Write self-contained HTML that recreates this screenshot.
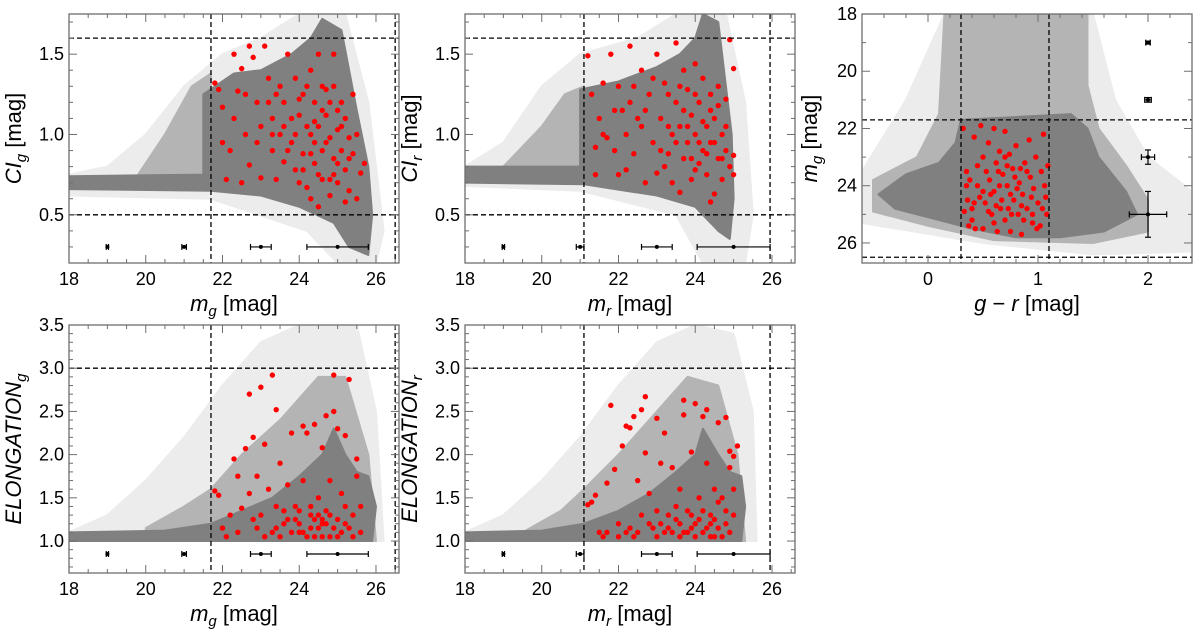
<!DOCTYPE html>
<html><head><meta charset="utf-8"><style>
body{margin:0;background:#fff;}
svg{display:block;font-family:"Liberation Sans",sans-serif;}
</style></head><body>
<svg id="fig" width="1200" height="635" viewBox="0 0 1200 635" xmlns="http://www.w3.org/2000/svg"></svg>
<script>
// ---------- data ----------
const p1Red=[[21.8,1.32],[21.9,1.28],[22.0,1.17],[22.0,0.95],[22.1,0.72],[22.2,0.9],[22.3,1.5],[22.4,1.27],[22.5,1.41],[22.6,1.0],[22.7,1.55],[22.7,0.81],[22.8,1.48],[22.9,1.2],[23.0,1.05],[23.0,0.73],[23.1,1.55],[23.2,1.35],[23.3,1.1],[23.3,0.9],[23.4,1.25],[23.5,1.0],[23.6,0.83],[23.6,1.2],[23.7,1.5],[23.8,0.95],[23.9,1.35],[23.9,0.78],[24.0,1.12],[24.1,0.88],[24.1,1.25],[24.2,0.67],[24.3,1.0],[24.3,1.4],[24.3,0.6],[24.4,1.2],[24.4,0.82],[24.5,1.05],[24.5,1.5],[24.6,0.72],[24.6,1.3],[24.7,0.95],[24.7,1.12],[24.8,0.62],[24.8,1.2],[24.9,0.85],[24.9,1.5],[25.0,1.03],[25.0,0.7],[25.1,1.2],[25.1,0.9],[25.2,0.78],[25.2,1.1],[25.3,0.65],[25.3,0.98],[25.4,0.88],[25.4,1.25],[25.5,0.6],[25.5,1.0],[25.6,0.76],[25.7,0.82],[23.8,1.1],[24.2,1.05],[24.6,0.9],[24.0,0.7],[23.4,0.72],[22.5,0.7],[24.9,0.75],[25.2,0.58],[24.5,0.55],
[22.3,1.1],[22.6,1.25],[22.9,0.95],[23.2,1.2],[23.5,1.3],[23.7,0.9],[24.0,1.22],[24.2,1.3],[24.4,0.95],[24.5,0.75],[24.7,1.28],[24.8,0.98],[25.0,1.15],[25.0,0.82],[25.1,1.05],[24.3,0.88],[24.6,1.15],[23.9,1.0],[24.1,0.78],[24.8,0.72],[25.3,0.85],[23.3,1.0],[24.4,1.08],[24.9,1.3],[23.6,1.05]];
const p2Red=[[21.2,1.49],[21.3,1.25],[21.4,0.92],[21.4,0.75],[21.5,1.1],[21.6,1.32],[21.7,0.98],[21.8,1.5],[21.9,1.15],[22.0,0.75],[22.0,1.3],[22.2,1.0],[22.3,1.55],[22.3,1.2],[22.4,0.88],[22.5,1.1],[22.6,1.4],[22.7,0.7],[22.8,1.25],[22.9,0.95],[23.0,1.5],[23.0,0.76],[23.1,1.1],[23.2,1.32],[23.3,0.88],[23.4,1.0],[23.4,0.7],[23.5,1.57],[23.5,1.2],[23.6,0.64],[23.6,1.05],[23.7,1.4],[23.7,0.85],[23.8,1.28],[23.8,0.95],[23.9,1.12],[23.9,0.72],[24.0,1.0],[24.0,1.44],[24.1,0.82],[24.1,1.2],[24.2,0.9],[24.2,1.35],[24.3,0.75],[24.3,1.05],[24.4,0.58],[24.4,0.95],[24.4,1.25],[24.5,0.63],[24.5,1.1],[24.6,0.85],[24.6,1.3],[24.7,1.0],[24.7,0.72],[24.8,1.22],[24.8,0.9],[24.9,1.59],[24.9,0.8],[25.0,1.41],[25.0,0.87],[25.0,0.75],[23.3,1.05],[22.6,1.05],[24.0,0.78],
[21.6,1.0],[21.9,0.9],[22.1,1.15],[22.4,1.3],[22.7,1.15],[22.9,1.35],[23.1,0.9],[23.3,1.25],[23.5,0.95],[23.7,1.15],[23.8,1.05],[24.0,1.25],[24.1,0.95],[24.2,1.08],[24.3,0.88],[24.5,0.95],[24.6,1.18],[24.7,0.85],[24.8,1.05],[23.9,0.85],[23.6,1.3],[24.4,1.15],[22.2,0.78],[23.2,0.8]];
const p3Red=[[0.32,22.0],[0.35,23.5],[0.36,24.5],[0.4,25.2],[0.42,22.3],[0.45,24.0],[0.48,21.9],[0.5,23.0],[0.5,25.5],[0.52,24.6],[0.55,22.5],[0.56,23.8],[0.58,25.0],[0.6,24.2],[0.62,23.2],[0.63,25.6],[0.65,22.8],[0.66,24.8],[0.68,23.6],[0.7,22.1],[0.7,25.2],[0.72,24.0],[0.74,22.9],[0.75,25.6],[0.77,23.4],[0.78,24.5],[0.8,22.6],[0.82,25.0],[0.83,23.9],[0.85,25.7],[0.86,24.3],[0.88,23.2],[0.9,24.8],[0.92,22.4],[0.93,23.7],[0.95,25.3],[0.96,24.1],[0.98,23.0],[1.0,24.6],[1.02,25.4],[1.03,23.5],[1.05,22.2],[1.06,24.0],[1.08,25.0],[1.09,23.3],[0.4,24.8],[0.45,23.3],[0.55,24.9],[0.65,24.0],[0.75,24.3],[0.6,22.0],[0.35,24.0],[0.85,24.7],[0.95,25.0],[0.5,24.2],[0.7,23.0],
[0.33,24.9],[0.38,23.8],[0.43,25.5],[0.47,24.4],[0.53,23.5],[0.57,24.3],[0.6,25.3],[0.64,23.5],[0.67,24.5],[0.72,23.3],[0.76,25.0],[0.79,23.7],[0.81,24.1],[0.87,25.2],[0.9,23.5],[0.94,24.4],[0.99,25.5],[1.04,24.8],[0.42,24.6],[0.62,24.7],[0.73,24.8],[0.84,23.4],[1.07,24.4],[0.37,25.4]];
const p4Red=[[21.8,1.58],[21.9,1.53],[22.0,1.15],[22.1,1.05],[22.2,1.3],[22.3,1.95],[22.4,1.75],[22.5,1.38],[22.6,2.07],[22.7,1.55],[22.7,2.7],[22.8,2.2],[22.9,1.75],[23.0,2.78],[23.0,1.3],[23.1,2.12],[23.2,1.6],[23.3,2.92],[23.3,1.1],[23.4,2.52],[23.4,1.4],[23.5,1.9],[23.6,1.2],[23.7,1.65],[23.8,2.25],[23.9,1.4],[24.0,1.1],[24.1,2.33],[24.1,1.7],[24.2,2.25],[24.3,1.3],[24.4,2.35],[24.4,1.05],[24.5,1.5],[24.6,2.08],[24.6,1.2],[24.7,2.45],[24.7,1.35],[24.8,1.7],[24.8,1.05],[24.9,2.92],[24.9,2.5],[25.0,1.25],[25.0,2.3],[25.1,1.55],[25.1,1.1],[25.2,2.22],[25.2,1.4],[25.3,2.87],[25.3,1.15],[25.4,1.3],[25.5,1.95],[25.5,1.75],[25.6,1.4],[25.6,1.1],[23.7,1.25],[24.3,1.15],[24.6,1.25],[24.0,1.35],[23.5,1.05],[22.9,1.15],[24.8,1.3],
[22.4,1.1],[22.8,1.25],[23.1,1.05],[23.4,1.15],[23.6,1.35],[23.8,1.1],[24.0,1.2],[24.2,1.05],[24.3,1.4],[24.5,1.15],[24.6,1.05],[24.7,1.2],[24.9,1.15],[25.0,1.05],[25.2,1.2],[24.4,1.25],[24.1,1.1],[23.9,1.25],[25.4,1.05],[24.5,1.3]];
const p5Red=[[21.2,1.42],[21.3,1.45],[21.4,1.53],[21.5,1.1],[21.6,1.05],[21.7,1.67],[21.8,2.57],[21.9,1.83],[22.0,1.2],[22.1,2.1],[22.2,2.33],[22.2,1.1],[22.3,2.31],[22.4,2.44],[22.5,1.7],[22.6,1.3],[22.6,2.52],[22.7,2.67],[22.7,2.02],[22.8,1.55],[22.9,1.15],[23.0,2.42],[23.0,1.35],[23.1,1.9],[23.2,2.25],[23.2,1.1],[23.4,1.85],[23.5,1.25],[23.6,1.6],[23.7,2.63],[23.7,2.46],[23.8,1.35],[23.8,1.1],[23.9,2.03],[24.0,2.59],[24.0,1.2],[24.1,1.5],[24.2,2.44],[24.2,1.1],[24.3,2.52],[24.3,1.9],[24.4,1.3],[24.5,1.6],[24.5,1.05],[24.6,2.37],[24.7,1.5],[24.8,2.43],[24.8,1.2],[24.9,1.85],[24.9,2.04],[25.0,1.6],[25.0,1.98],[25.1,2.1],[25.0,1.3],[23.3,1.15],[23.9,1.15],[24.4,1.2],[22.4,1.05],[23.6,1.05],
[21.7,1.1],[22.0,1.05],[22.3,1.15],[22.5,1.1],[22.8,1.2],[23.0,1.05],[23.1,1.2],[23.3,1.3],[23.4,1.1],[23.6,1.2],[23.7,1.1],[23.9,1.3],[24.0,1.05],[24.1,1.25],[24.2,1.35],[24.3,1.15],[24.4,1.05],[24.5,1.25],[24.6,1.15],[24.7,1.05],[24.8,1.35],[24.9,1.1],[23.5,1.4],[24.6,1.45]];

const p1Sparse=[[18,0.75],[19,0.8],[20,1.0],[21,1.3],[22,1.5],[23,1.6],[24,1.75],[25.2,1.75],[25.8,1.2],[26.2,0.4],[26.0,0.2],[25.0,0.2],[24.2,0.4],[21.7,0.6],[18,0.62]];
const p1Mid=[[19.8,0.75],[20.5,1.0],[21.2,1.3],[21.7,1.38],[21.7,0.74]];
const p1Dense=[[18,0.66],[18,0.74],[21.5,0.75],[21.5,1.25],[22.3,1.38],[23,1.4],[23.8,1.5],[24.3,1.6],[24.6,1.72],[25.1,1.65],[25.3,1.4],[25.5,1.15],[25.8,0.8],[25.9,0.5],[25.8,0.25],[25.3,0.3],[24.9,0.45],[24.0,0.55],[23.0,0.62],[21.7,0.65]];
const p2Sparse=[[18,0.8],[19,0.95],[20,1.3],[21,1.5],[22.5,1.6],[23.5,1.75],[24.8,1.75],[25.3,1.2],[25.5,0.5],[25.3,0.2],[24.2,0.2],[23.5,0.5],[21,0.65],[18,0.68]];
const p2Mid=[[19,0.8],[20,1.05],[20.6,1.25],[21.1,1.3],[21.1,0.78]];
const p2Dense=[[18,0.7],[18,0.8],[21.0,0.8],[21.0,1.28],[22,1.33],[23,1.42],[23.6,1.5],[24.0,1.6],[24.2,1.75],[24.6,1.7],[24.8,1.3],[24.95,1.0],[25.0,0.6],[24.9,0.35],[24.6,0.4],[24.0,0.55],[23.0,0.62],[21.1,0.69]];
const p3Sparse=[[-0.2,21.0],[0.15,18],[1.5,18],[1.7,21],[2.0,23],[2.4,24.2],[2.4,26.3],[1.5,26.4],[0.5,26.0],[-0.6,25.3],[-0.6,23.5]];
const p3Mid=[[0.15,18],[1.45,18],[1.45,20.5],[1.55,22],[1.8,23.3],[2.0,24.5],[2.0,25.6],[1.5,26.0],[0.6,25.9],[0,25.4],[-0.5,24.9],[-0.5,23.8],[-0.1,23],[0.1,21.5]];
const p3Dense=[[-0.45,24.3],[-0.2,23.6],[0.1,23.2],[0.25,22.5],[0.3,21.7],[1.3,21.5],[1.45,22.0],[1.55,23],[1.8,24.2],[1.9,25],[1.6,25.6],[1.2,25.8],[0.8,25.8],[0.4,25.5],[0.1,25.2],[-0.3,24.8]];
const p4Sparse=[[18,1.1],[19,1.3],[20,1.7],[21,2.2],[22,2.8],[23,3.3],[24,3.5],[25.5,3.5],[26,2.5],[26.2,1.0],[18,1.0]];
const p4Mid=[[20,1.15],[21,1.4],[21.7,1.6],[22.5,2.0],[23.5,2.4],[24.5,2.9],[25.2,2.9],[25.8,2.0],[26.0,1.0],[20,1.0]];
const p4Dense=[[18,1.0],[18,1.1],[20.5,1.12],[21.7,1.2],[22.5,1.35],[23.3,1.5],[24.0,1.75],[24.6,2.0],[24.9,2.3],[25.2,2.0],[25.5,1.8],[25.8,1.75],[26.0,1.4],[25.9,1.0]];
const p5Sparse=[[18,1.1],[19,1.3],[20,1.7],[21,2.2],[22,2.8],[23,3.3],[24,3.5],[25,3.4],[25.5,2.5],[25.6,1.0],[18,1.0]];
const p5Mid=[[19.5,1.1],[20.5,1.35],[21.1,1.6],[22,2.0],[23,2.5],[23.8,2.9],[24.6,2.8],[25.1,2.0],[25.3,1.0],[19.5,1.0]];
const p5Dense=[[18,1.0],[18,1.1],[20,1.12],[21.1,1.2],[22,1.35],[22.8,1.55],[23.5,1.8],[24.0,2.0],[24.2,2.3],[24.6,2.0],[24.9,1.8],[25.2,1.75],[25.3,1.4],[25.2,1.0]];

// error bars: [x, y, xerr, yerr]
const errG=[[19,0,0.03,0],[21,0,0.06,0],[23,0,0.27,0],[25,0,0.8,0]];
const errR=[[19,0,0.03,0],[21,0,0.1,0],[23,0,0.4,0],[25,0,0.95,0]];
const errCol=[[2,19,0.02,0.05],[2,21,0.03,0.08],[2,23,0.06,0.25],[2,25,0.17,0.8]];

const magTicks=[18,20,22,24,26];
const ciTicks=[0.5,1.0,1.5];
const elTicks=[1.0,1.5,2.0,2.5,3.0,3.5];
const colTicks=[0,1,2];
const mgTicks=[18,20,22,24,26];

// ---------- drawing ----------
const NS="http://www.w3.org/2000/svg";
const svg=document.getElementById('fig');
function mk(tag,attrs,parent){const e=document.createElementNS(NS,tag);for(const k in attrs)e.setAttribute(k,attrs[k]);(parent||svg).appendChild(e);return e;}

function panel(cfg){
  const g=mk('g',{});
  
  
  const X=v=>cfg.x0+(v-cfg.xmin)/(cfg.xmax-cfg.xmin)*cfg.w;
  const Y=cfg.yrev? v=>cfg.y0+(v-cfg.ymin)/(cfg.ymax-cfg.ymin)*cfg.h : v=>cfg.y0+cfg.h-(v-cfg.ymin)/(cfg.ymax-cfg.ymin)*cfg.h;
  const cid='clip-'+cfg.name;
  const cp=mk('clipPath',{id:cid},g);mk('rect',{x:cfg.x0,y:cfg.y0,width:cfg.w,height:cfg.h},cp);
  const pg=mk('g',{'clip-path':'url(#'+cid+')'},g);
  const poly=(pts,fill,nm)=>{const p=mk('polygon',{points:pts.map(q=>X(q[0])+','+Y(q[1])).join(' '),fill:fill,'stroke':fill,'stroke-width':2,'stroke-linejoin':'round'},pg);
    
    };
  poly(cfg.sparse,'#ececec','sparse-cloud');
  poly(cfg.mid,'#b4b4b4','medium-cloud');
  poly(cfg.dense,'#808080','dense-cloud');
  cfg.red.forEach(p=>{const c=mk('circle',{cx:X(p[0]),cy:Y(p[1]),r:2.7,fill:'#ff0000'},pg);
    
    });
  cfg.vlines.forEach(v=>{const l=mk('line',{x1:X(v),x2:X(v),y1:cfg.y0,y2:cfg.y0+cfg.h,stroke:'#000','stroke-width':1.3,'stroke-dasharray':'5,3'},pg);
    
    });
  cfg.hlines.forEach(v=>{const l=mk('line',{x1:cfg.x0,x2:cfg.x0+cfg.w,y1:Y(v),y2:Y(v),stroke:'#000','stroke-width':1.3,'stroke-dasharray':'5,3'},pg);
    
    });
  cfg.err.forEach(e=>{const ey=cfg.erry!==undefined?cfg.erry:e[1];const cx=X(e[0]),cy=Y(ey);
    const eg=mk('g',{stroke:'#000','stroke-width':1.2},pg);
    
    
    const x1=X(e[0]-e[2]),x2=X(e[0]+e[2]);
    mk('line',{x1:x1,x2:x2,y1:cy,y2:cy},eg);mk('line',{x1:x1,x2:x1,y1:cy-3,y2:cy+3},eg);mk('line',{x1:x2,x2:x2,y1:cy-3,y2:cy+3},eg);
    if(e[3]>0){const y1=Y(ey-e[3]),y2=Y(ey+e[3]);mk('line',{x1:cx,x2:cx,y1:y1,y2:y2},eg);mk('line',{x1:cx-3,x2:cx+3,y1:y1,y2:y1},eg);mk('line',{x1:cx-3,x2:cx+3,y1:y2,y2:y2},eg);}
    mk('circle',{cx:cx,cy:cy,r:2,fill:'#000',stroke:'none'},eg);});
  mk('rect',{x:cfg.x0,y:cfg.y0,width:cfg.w,height:cfg.h,fill:'none',stroke:'#6e6e6e','stroke-width':1.3},g);
  const tg=mk('g',{stroke:'#6e6e6e','stroke-width':1},g);
  const lo=Math.min(cfg.xmin,cfg.xmax),hi=Math.max(cfg.xmin,cfg.xmax);
  for(let v=Math.ceil(lo/cfg.xminor-1e-9)*cfg.xminor;v<=hi+1e-9;v+=cfg.xminor){const x=X(v);const maj=Math.abs(v/cfg.xmajor-Math.round(v/cfg.xmajor))<1e-6;const L=maj?8:4;
    mk('line',{x1:x,x2:x,y1:cfg.y0+cfg.h,y2:cfg.y0+cfg.h-L},tg);mk('line',{x1:x,x2:x,y1:cfg.y0,y2:cfg.y0+L},tg);}
  const ylo=Math.min(cfg.ymin,cfg.ymax),yhi=Math.max(cfg.ymin,cfg.ymax);
  for(let v=Math.ceil(ylo/cfg.yminor-1e-9)*cfg.yminor;v<=yhi+1e-9;v+=cfg.yminor){const y=Y(v);const maj=Math.abs(v/cfg.ymajor-Math.round(v/cfg.ymajor))<1e-6;const L=maj?8:4;
    mk('line',{x1:cfg.x0,x2:cfg.x0+L,y1:y,y2:y},tg);mk('line',{x1:cfg.x0+cfg.w,x2:cfg.x0+cfg.w-L,y1:y,y2:y},tg);}
  cfg.xticks.forEach(v=>{const t=mk('text',{x:X(v),y:cfg.y0+cfg.h+22,'font-size':18,'text-anchor':'middle',fill:'#000'},g);t.textContent=String(v);
    
    });
  cfg.yticks.forEach(v=>{const t=mk('text',{x:cfg.x0-5,y:Y(v)+6,'font-size':18,'text-anchor':'end',fill:'#000'},g);t.textContent=cfg.yfmt(v);
    
    });
  const xl=mk('text',{x:cfg.x0+cfg.w/2,y:cfg.y0+cfg.h+48,'font-size':22,'text-anchor':'middle',fill:'#000'},g);xl.innerHTML=cfg.xlabel;
  
  
  const yx=cfg.x0-cfg.ylOff,yy=cfg.y0+cfg.h/2;
  const yl=mk('text',{x:yx,y:yy,'font-size':22,'text-anchor':'middle',fill:'#000',transform:'rotate(-90 '+yx+' '+yy+')'},g);yl.innerHTML=cfg.ylabel;
  
  
}
const f1=v=>v.toFixed(1), f0=v=>String(v);
const mgL='<tspan font-style="italic">m</tspan><tspan font-style="italic" font-size="15" dy="5">g</tspan><tspan dy="-5"> [mag]</tspan>';
const mrL='<tspan font-style="italic">m</tspan><tspan font-style="italic" font-size="15" dy="5">r</tspan><tspan dy="-5"> [mag]</tspan>';
const base={w:330,xmin:18,xmax:26.6,xminor:0.5,xmajor:2,xticks:magTicks};
panel(Object.assign({},base,{name:'panel-ci-g',x0:69,y0:14,h:249,ymin:0.2,ymax:1.75,yminor:0.1,ymajor:0.5,yticks:ciTicks,yfmt:f1,
  sparse:p1Sparse,mid:p1Mid,dense:p1Dense,red:p1Red,vlines:[21.7,26.5],hlines:[1.6,0.5],err:errG,erry:0.3,
  xlabel:mgL,ylabel:'<tspan font-style="italic">CI</tspan><tspan font-style="italic" font-size="15" dy="5">g</tspan><tspan dy="-5"> [mag]</tspan>',ylOff:48}));
panel(Object.assign({},base,{name:'panel-ci-r',x0:465,y0:14,h:249,ymin:0.2,ymax:1.75,yminor:0.1,ymajor:0.5,yticks:ciTicks,yfmt:f1,
  sparse:p2Sparse,mid:p2Mid,dense:p2Dense,red:p2Red,vlines:[21.1,25.95],hlines:[1.6,0.5],err:errR,erry:0.3,
  xlabel:mrL,ylabel:'<tspan font-style="italic">CI</tspan><tspan font-style="italic" font-size="15" dy="5">r</tspan><tspan dy="-5"> [mag]</tspan>',ylOff:48}));
panel({name:'panel-color-mag',x0:862,y0:14,w:330,h:249,xmin:-0.6,xmax:2.4,xminor:0.2,xmajor:1,xticks:colTicks,ymin:18,ymax:26.7,yrev:true,yminor:1,ymajor:2,yticks:mgTicks,yfmt:f0,
  sparse:p3Sparse,mid:p3Mid,dense:p3Dense,red:p3Red,vlines:[0.3,1.1],hlines:[21.7,26.5],err:errCol,
  xlabel:'<tspan font-style="italic">g</tspan> − <tspan font-style="italic">r</tspan> [mag]',ylabel:mgL,ylOff:45});
panel(Object.assign({},base,{name:'panel-elong-g',x0:69,y0:325,h:248,ymin:0.63,ymax:3.5,yminor:0.1,ymajor:0.5,yticks:elTicks,yfmt:f1,
  sparse:p4Sparse,mid:p4Mid,dense:p4Dense,red:p4Red,vlines:[21.7,26.5],hlines:[3.0],err:errG,erry:0.85,
  xlabel:mgL,ylabel:'<tspan font-style="italic">ELONGATION</tspan><tspan font-style="italic" font-size="15" dy="5">g</tspan>',ylOff:48}));
panel(Object.assign({},base,{name:'panel-elong-r',x0:465,y0:325,h:248,ymin:0.63,ymax:3.5,yminor:0.1,ymajor:0.5,yticks:elTicks,yfmt:f1,
  sparse:p5Sparse,mid:p5Mid,dense:p5Dense,red:p5Red,vlines:[21.1,25.95],hlines:[3.0],err:errR,erry:0.85,
  xlabel:mrL,ylabel:'<tspan font-style="italic">ELONGATION</tspan><tspan font-style="italic" font-size="15" dy="5">r</tspan>',ylOff:48}));
</script>
</body></html>
